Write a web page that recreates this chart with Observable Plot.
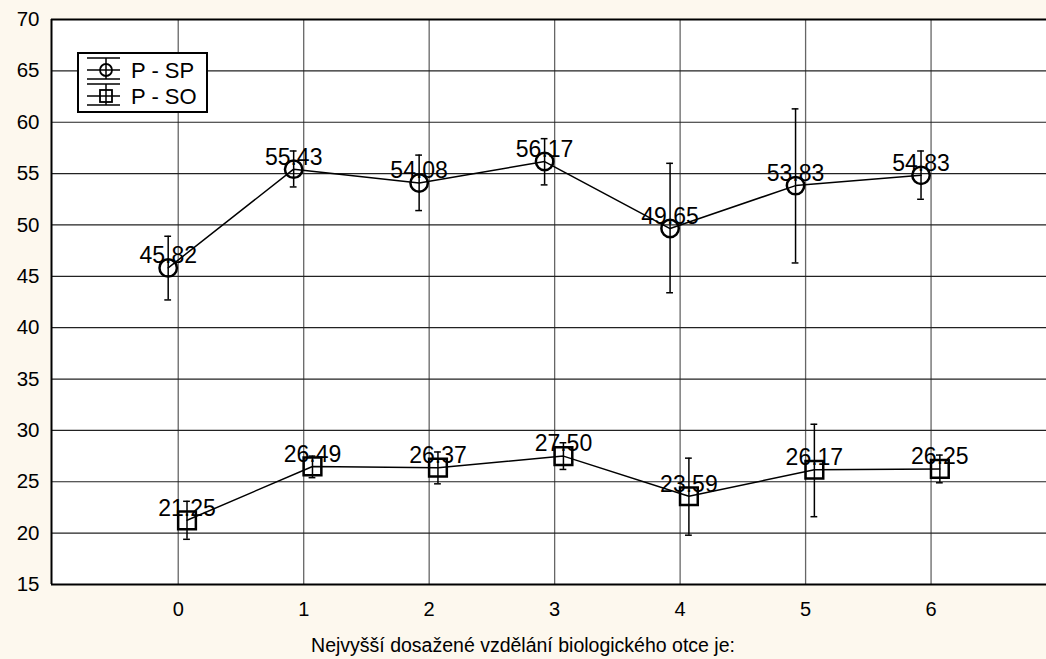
<!DOCTYPE html>
<html>
<head>
<meta charset="utf-8">
<script src="https://cdn.jsdelivr.net/npm/d3@7"></script>
<script src="https://cdn.jsdelivr.net/npm/@observablehq/plot@0.6"></script>
<style>
  html, body { margin: 0; padding: 0; background: #fdf8ee; }
  #wrap { position: relative; width: 1046px; height: 659px; font-family: "Liberation Sans", Arial, sans-serif; }
  #legend { position: absolute; left: 77px; top: 52px; }
</style>
</head>
<body>
<div id="wrap"></div>
<script>
const categories = [0, 1, 2, 3, 4, 5, 6];
const seriesNames = ["P - SP", "P - SO"];
const spMean = [45.82, 55.43, 54.08, 56.17, 49.65, 53.83, 54.83];
const spLow  = [42.7, 53.7, 51.4, 53.9, 43.4, 46.3, 52.5];
const spHigh = [48.9, 57.2, 56.8, 58.4, 56.0, 61.3, 57.2];
const soMean = [21.25, 26.49, 26.37, 27.50, 23.59, 26.17, 26.25];
const soLow  = [19.4, 25.4, 24.8, 26.2, 19.8, 21.6, 24.9];
const soHigh = [23.1, 27.5, 27.9, 28.8, 27.3, 30.6, 27.6];
const yTicks = [15, 20, 25, 30, 35, 40, 45, 50, 55, 60, 65, 70];
const xTitle = "Nejvyšší dosažené vzdělání biologického otce je:";

const offsets = [-0.08, 0.07];
const capHalf = 0.027;

function build(means, lows, highs, si) {
  return categories.map((c, i) => ({
    series: seriesNames[si], cat: c, x: c + offsets[si],
    mean: means[i], low: lows[i], high: highs[i]
  }));
}
const sp = build(spMean, spLow, spHigh, 0);
const so = build(soMean, soLow, soHigh, 1);

function seriesMarks(data, symbol, r) {
  return [
    Plot.line(data, {x: "x", y: "mean", stroke: "black", strokeWidth: 1.5}),
    Plot.ruleX(data, {x: "x", y1: "low", y2: "high", stroke: "black", strokeWidth: 1.5}),
    Plot.ruleY(data, {y: "high", x1: d => d.x - capHalf, x2: d => d.x + capHalf, stroke: "black", strokeWidth: 1.5}),
    Plot.ruleY(data, {y: "low", x1: d => d.x - capHalf, x2: d => d.x + capHalf, stroke: "black", strokeWidth: 1.5}),
    Plot.dot(data, {x: "x", y: "mean", symbol, r, fill: "none", stroke: "black", strokeWidth: 2.5}),
    Plot.text(data, {x: "x", y: "mean", text: d => d.mean.toFixed(2), dy: -12, fontSize: 23, fill: "black", lineAnchor: "middle"})
  ];
}

const chart = Plot.plot({
  width: 1046,
  height: 659,
  marginLeft: 51,
  marginRight: 0,
  marginTop: 19,
  marginBottom: 75,
  style: {background: "transparent", fontFamily: "'Liberation Sans', Arial, sans-serif", fontSize: "20px", color: "black"},
  x: {type: "linear", domain: [-1.01, 6.92]},
  y: {domain: [15, 70]},
  marks: [
    Plot.frame({fill: "white", stroke: "none"}),
    Plot.gridX(categories, {stroke: "#666", strokeOpacity: 1, strokeWidth: 1.3}),
    Plot.gridY(yTicks, {stroke: "#222", strokeOpacity: 1, strokeWidth: 1.2}),
    Plot.axisX(categories, {tickSize: 0, tickPadding: 17, tickFormat: d => String(d), label: null, fontSize: 20}),
    Plot.axisY(yTicks, {tickSize: 0, tickPadding: 12, label: null, fontSize: 20.5}),
    Plot.ruleX([-1.01], {stroke: "black", strokeWidth: 2}),
    Plot.ruleY([15], {stroke: "black", strokeWidth: 2}),
    Plot.ruleY([70], {stroke: "black", strokeWidth: 2}),
    ...seriesMarks(sp, "circle", 8.7),
    ...seriesMarks(so, "square", 10),
    Plot.text([xTitle], {frameAnchor: "bottom", dx: -26, dy: 61, fontSize: 19.5, fill: "black", lineAnchor: "middle"})
  ]
});
document.getElementById("wrap").appendChild(chart);

// Legend
const lg = d3.select("#wrap").append("svg").attr("id", "legend")
  .attr("width", 131).attr("height", 61);
lg.append("rect").attr("x", 1).attr("y", 1).attr("width", 129).attr("height", 59)
  .attr("fill", "white").attr("stroke", "black").attr("stroke-width", 2);
const entries = [{name: seriesNames[0], sym: "circle", cy: 18}, {name: seriesNames[1], sym: "square", cy: 44}];
entries.forEach(e => {
  const g = lg.append("g").attr("stroke", "black").attr("fill", "none");
  const cx = 29;
  g.append("line").attr("x1", 10).attr("x2", 43).attr("y1", e.cy - 12).attr("y2", e.cy - 12).attr("stroke-width", 1.5);
  g.append("line").attr("x1", 10).attr("x2", 43).attr("y1", e.cy + 9).attr("y2", e.cy + 9).attr("stroke-width", 1.5);
  g.append("line").attr("x1", 10).attr("x2", 43).attr("y1", e.cy).attr("y2", e.cy).attr("stroke-width", 1.5);
  g.append("line").attr("x1", cx).attr("x2", cx).attr("y1", e.cy - 12).attr("y2", e.cy + 9).attr("stroke-width", 1.5);
  if (e.sym === "circle") {
    g.append("circle").attr("cx", cx).attr("cy", e.cy).attr("r", 6).attr("stroke-width", 1.8);
  } else {
    g.append("rect").attr("x", cx - 6).attr("y", e.cy - 6).attr("width", 12).attr("height", 12).attr("stroke-width", 1.8);
  }
  lg.append("text").attr("x", 54).attr("y", e.cy).attr("dy", "0.35em")
    .attr("font-size", 22).attr("font-family", "'Liberation Sans', Arial, sans-serif")
    .attr("fill", "black").text(e.name);
});
</script>
</body>
</html>
